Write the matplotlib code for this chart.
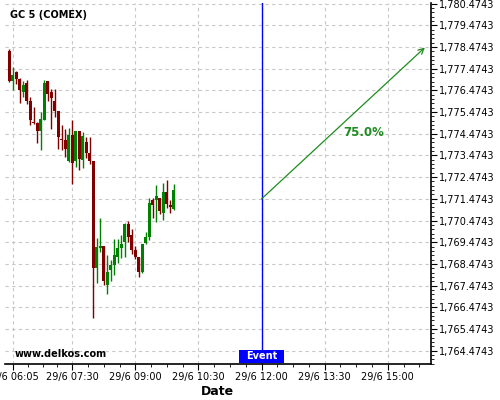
import datetime as dt
import numpy as np
import matplotlib
matplotlib.use('Agg')
import matplotlib.pyplot as plt
import matplotlib.dates as mdates
from matplotlib.ticker import FuncFormatter, MultipleLocator, FixedLocator
from matplotlib.patches import Rectangle
from matplotlib.transforms import blended_transform_factory

# 5 minute candles, 29/6 06:00 -> 09:55
day = dt.datetime(2021, 6, 29)
first_bar = day.replace(hour=6, minute=0)
bar_minutes = 5

opens = [1778.28, 1776.90, 1777.30, 1776.98, 1776.39, 1776.79, 1775.97, 1775.02,
         1774.99, 1774.60, 1775.11, 1776.89, 1776.38, 1775.97, 1775.51, 1774.24,
         1774.17, 1773.23, 1774.40, 1773.20, 1774.59, 1773.25, 1774.09, 1773.57,
         1773.20, 1768.29, 1769.21, 1769.29, 1767.50, 1768.19, 1768.42, 1768.80,
         1769.19, 1769.49, 1770.31, 1769.80, 1769.11, 1768.80, 1768.11, 1769.42,
         1769.72, 1771.41, 1771.44, 1771.49, 1770.83, 1771.78, 1771.20, 1771.00]
highs = [1778.39, 1777.55, 1777.35, 1777.02, 1776.90, 1776.96, 1776.15, 1775.69,
         1775.00, 1775.46, 1776.96, 1776.89, 1776.55, 1776.52, 1775.51, 1774.86,
         1774.68, 1774.75, 1775.09, 1774.59, 1774.59, 1774.54, 1774.31, 1774.31,
         1773.20, 1769.69, 1770.57, 1769.29, 1768.88, 1768.65, 1769.60, 1769.60,
         1769.80, 1770.36, 1770.46, 1770.06, 1769.29, 1768.80, 1769.38, 1769.95,
         1771.49, 1771.52, 1772.10, 1771.49, 1772.19, 1772.36, 1771.43, 1772.15]
lows = [1776.86, 1776.47, 1776.75, 1775.87, 1776.16, 1775.86, 1774.86, 1774.91,
        1774.06, 1773.71, 1775.09, 1775.99, 1774.70, 1775.25, 1773.78, 1773.73,
        1773.41, 1773.18, 1772.18, 1772.95, 1772.79, 1772.88, 1773.34, 1773.10,
        1765.97, 1767.58, 1769.02, 1767.50, 1767.07, 1767.68, 1767.96, 1768.50,
        1768.75, 1768.77, 1769.49, 1768.92, 1768.68, 1767.88, 1768.06, 1769.38,
        1769.59, 1770.57, 1770.40, 1770.77, 1770.49, 1771.06, 1770.80, 1770.95]
closes = [1776.90, 1777.16, 1776.98, 1776.47, 1776.70, 1775.98, 1775.09, 1774.98,
          1774.60, 1775.17, 1776.79, 1776.32, 1776.10, 1775.53, 1774.32, 1774.20,
          1773.76, 1774.40, 1773.14, 1774.59, 1773.30, 1774.35, 1773.59, 1773.23,
          1768.29, 1769.26, 1769.31, 1767.68, 1768.11, 1768.42, 1768.88, 1769.19,
          1769.38, 1770.31, 1769.72, 1769.11, 1768.80, 1768.11, 1769.38, 1769.71,
          1771.29, 1771.18, 1771.59, 1770.90, 1771.78, 1771.23, 1771.10, 1771.87]

# event + forecast arrow
event_time = day.replace(hour=12, minute=0)
arrow_start = 1771.47
arrow_end_time = day.replace(hour=15, minute=53)
arrow_end = 1778.45
pct_label = '75.0%'
pct_time = day.replace(hour=14, minute=25)
pct_value = 1774.54

xtick_times = ['06:05', '07:30', '09:00', '10:30', '12:00', '13:30', '15:00']

times = [first_bar + dt.timedelta(minutes=bar_minutes * i) for i in range(len(opens))]
x = mdates.date2num(times)
o = np.array(opens)
h = np.array(highs)
l = np.array(lows)
c = np.array(closes)

up_col = '#008000'
down_col = '#800000'
cols = [up_col if cc >= oo else down_col for oo, cc in zip(o, c)]

fig = plt.figure(figsize=(5, 4), dpi=100)
ax = fig.add_axes([0.01, 0.09, 0.851, 0.9025])

ax.vlines(x, l, h, colors=cols, linewidth=1, zorder=3)
body_h = np.maximum(np.abs(c - o), 0.05)
body_b = np.minimum(o, c)
ax.bar(x, body_h, bottom=body_b, width=4.3 / 1440, color=cols, linewidth=0, zorder=4)

# event marker
ax.axvline(mdates.date2num(event_time), color='#0000ff', linewidth=1, zorder=2)
trans = blended_transform_factory(ax.transData, ax.transAxes)
ev = mdates.date2num(event_time)
half = 31.5 / 1440
ax.add_patch(Rectangle((ev - half, 0.003), 2 * half, 0.036, transform=trans,
                       facecolor='#0000ff', edgecolor='none', zorder=5))
ax.text(ev, 0.021, 'Event', transform=trans, color='white', fontsize=7,
        fontweight='bold', ha='center', va='center', zorder=6)

ax.annotate('', xy=(mdates.date2num(arrow_end_time), arrow_end),
            xytext=(ev, arrow_start),
            arrowprops=dict(arrowstyle='->', color='#1e8c1e', lw=0.9,
                            shrinkA=0, shrinkB=0, mutation_scale=10))
ax.text(mdates.date2num(pct_time), pct_value, pct_label, color='#1e8c1e',
        fontsize=8.5, fontweight='bold', ha='center', va='center')

ax.text(0.012, 0.967, 'GC 5 (COMEX)', transform=ax.transAxes, fontsize=7,
        fontweight='bold', va='center')
ax.text(0.0235, 0.028, 'www.delkos.com', transform=ax.transAxes, fontsize=7,
        fontweight='bold', va='center')

# axes limits
ax.set_xlim(mdates.date2num(day.replace(hour=5, minute=54)),
            mdates.date2num(day.replace(hour=16, minute=1)))
ax.set_ylim(1763.86, 1780.50)

major = [mdates.date2num(day.replace(hour=int(t[:2]), minute=int(t[3:]))) for t in xtick_times]
minor = []
for a, b in zip(major[:-1], major[1:]):
    minor += list(np.linspace(a, b, 5)[1:-1])
step = (major[-1] - major[-2]) / 4
minor += [major[-1] + step, major[-1] + 2 * step]
ax.xaxis.set_major_locator(FixedLocator(major))
ax.xaxis.set_minor_locator(FixedLocator(minor))
ax.xaxis.set_major_formatter(FuncFormatter(
    lambda v, p: '29/6 ' + mdates.num2date(v).strftime('%H:%M')))

ax.yaxis.tick_right()
ax.yaxis.set_major_locator(MultipleLocator(1.0, offset=0.4743))
ax.yaxis.set_minor_locator(MultipleLocator(0.2, offset=0.0743))
ax.yaxis.set_major_formatter(FuncFormatter(lambda v, p: f'{v:,.4f}'))

ax.tick_params(axis='both', which='major', labelsize=7, length=4, width=0.8, pad=2)
ax.tick_params(axis='both', which='minor', length=2, width=0.6)

ax.grid(True, which='major', color='#c8c8c8', linestyle=(0, (3, 3)), linewidth=0.8)
ax.set_axisbelow(True)

for s in ['left', 'top']:
    ax.spines[s].set_visible(False)
for s in ['right', 'bottom']:
    ax.spines[s].set_linewidth(1.2)

ax.set_xlabel('Date', fontsize=9, fontweight='bold', labelpad=2)

fig.savefig('out.png', dpi=100)
